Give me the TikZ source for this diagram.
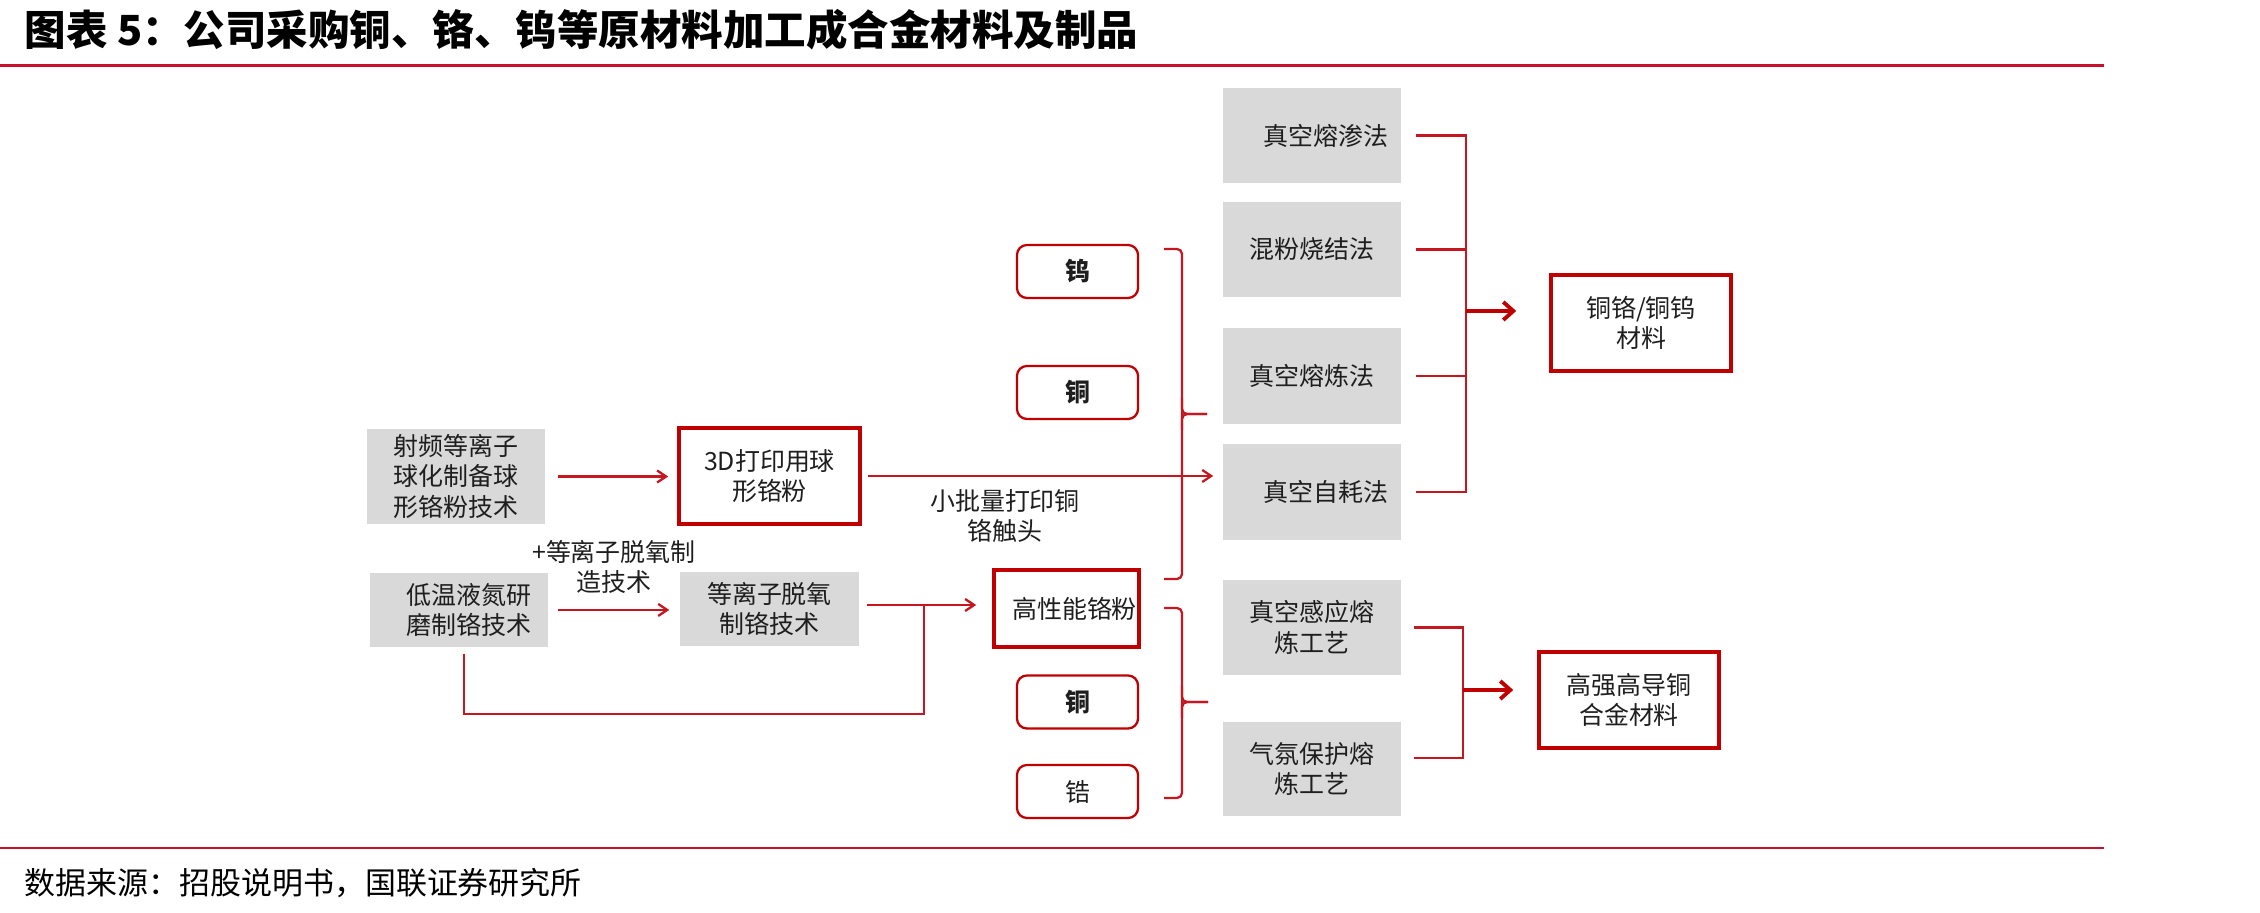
\documentclass[tikz,border=0pt]{standalone}
\usepackage{fontspec}
\setmainfont{Noto Sans CJK SC}
\usetikzlibrary{arrows.meta,calc}
\definecolor{hdr}{RGB}{200,16,46}
\definecolor{rd}{RGB}{192,0,0}
\definecolor{ln}{RGB}{198,22,32}
\definecolor{gbox}{RGB}{217,217,217}
\definecolor{txt}{RGB}{30,30,30}
\begin{document}
\begin{tikzpicture}[x=0.01cm,y=-0.01cm,
  every node/.style={inner sep=0pt, text=txt, align=center, font=\fontsize{7.1pt}{8.6pt}\selectfont},
  graybox/.style={fill=gbox, minimum width=1.78cm, minimum height=0.95cm},
  redbox/.style={draw=rd, line width=1pt, minimum width=1.80cm, minimum height=0.96cm},
  roundbox/.style={draw=rd, line width=0.65pt, rounded corners=0.1cm, minimum width=1.21cm, minimum height=0.53cm},
  boldtxt/.style={font=\fontsize{7.1pt}{8.6pt}\selectfont\bfseries},
  conn/.style={draw=ln, line width=0.65pt},
  arr/.style={conn, -{Straight Barb[length=0.09cm,width=0.12cm]}},
  bigarr/.style={draw=rd, line width=0.9pt, -{Straight Barb[length=0.1cm,width=0.18cm,line width=1.1pt]}},
  brace/.style={conn, rounded corners=0.05cm},
]
\useasboundingbox (0,0) rectangle (2260,913);

% title and rules
\node[anchor=west, text=black, font=\fontsize{11.8pt}{12pt}\selectfont\bfseries] (title) at (24,30)
  {图表 5：公司采购铜、铬、钨等原材料加工成合金材料及制品};
\draw[hdr, line width=0.85pt] (0,66) -- (2104,66);
\draw[hdr, line width=0.85pt] (0,848) -- (2104,848);
\node[anchor=west, text=black, font=\fontsize{8.8pt}{9pt}\selectfont] (src) at (24,883)
  {数据来源：招股说明书，国联证券研究所};

% left column
\node[graybox] (s1) at (456,476.5) {射频等离子\\球化制备球\\形铬粉技术};
\node[graybox, minimum height=0.74cm] (s2) at (459,610) {\hspace*{0.2cm}低温液氮研\\\hspace*{0.2cm}磨制铬技术};
\node[redbox, minimum width=1.81cm] (d3) at (769.5,476) {3D打印用球\\形铬粉};
\node[graybox, minimum width=1.79cm, minimum height=0.74cm] (pl) at (769.5,609) {等离子脱氧\\制铬技术};
\node (lab1) at (614,567) {+等离子脱氧制\\造技术};

% middle column
\node[roundbox, boldtxt] (w) at (1077.5,271.5) {钨};
\node[roundbox, boldtxt] (cu1) at (1077.5,392.5) {铜};
\node[redbox, minimum width=1.45cm, minimum height=0.77cm] (hp) at (1066.5,608.5) {\hspace*{0.16cm}高性能铬粉};
\node[roundbox, boldtxt] (cu2) at (1077.5,702) {铜};
\node[roundbox] (zr) at (1077.5,791.5) {锆};
\node (lab2) at (1005,516) {小批量打印铜\\铬触头};

% method boxes
\node[graybox] (m1) at (1312,135.5) {\hspace*{0.28cm}真空熔渗法};
\node[graybox] (m2) at (1312,249.5) {混粉烧结法};
\node[graybox] (m3) at (1312,376) {真空熔炼法};
\node[graybox] (m4) at (1312,492) {\hspace*{0.28cm}真空自耗法};
\node[graybox] (m5) at (1312,627.5) {真空感应熔\\炼工艺};
\node[graybox, minimum height=0.94cm] (m6) at (1312,769) {气氛保护熔\\炼工艺};

% results
\node[redbox] (r1) at (1641,323) {铜铬/铜钨\\材料};
\node[redbox] (r2) at (1629,700) {高强高导铜\\合金材料};

% left arrows
\draw[arr, shorten <=0.12cm, shorten >=0.09cm] (s1.east) -- (s1.east -| d3.west);
\draw[arr, shorten <=0.09cm, shorten >=0.10cm] (s2.east) -- (s2.east -| pl.west);
\draw[arr, shorten <=0.06cm, shorten >=0.09cm] (d3.east) -- (d3.east -| m4.west);

\coordinate (jp) at (924,605);
\coordinate (pe) at ([xshift=0.07cm]pl.east);
\draw[arr, shorten >=0.16cm] (pe |- jp) -- (jp -| hp.west);
\draw[conn] ([xshift=0.05cm,yshift=-0.06cm]s2.south) -- ++(0,60) -| (jp);

% braces
\coordinate (b1t) at (1164,249);
\coordinate (b1b) at (1164,579);
\coordinate (b1n) at (1207,414);
\draw[brace] (b1t) -- (1182,249) -- (1182,579) -- (b1b);
\draw[brace] (1182,398) -- (1182,414) -- (b1n);
\draw[brace] (1182,430) -- (1182,414) -- (b1n);

\coordinate (b2t) at (1164,608);
\coordinate (b2b) at (1164,798);
\coordinate (b2n) at (1208,702);
\draw[brace] (b2t) -- (1182,608) -- (1182,798) -- (b2b);
\draw[brace] (1182,686) -- (1182,702) -- (b2n);
\draw[brace] (1182,718) -- (1182,702) -- (b2n);

% right joins
\coordinate (jA) at (1466,311);
\foreach \m in {m1,m2,m3,m4} \draw[conn] ([xshift=0.14cm]\m.east) -| (jA);
\draw[bigarr, shorten >=0.33cm] (jA) -- (jA -| r1.west);

\coordinate (jB) at (1463,690);
\draw[conn] ([xshift=0.12cm]m5.east) -| (jB);
\draw[conn] ([xshift=0.12cm,yshift=0.11cm]m6.east) -| (jB);
\draw[bigarr, shorten >=0.24cm] (jB) -- (jB -| r2.west);
\end{tikzpicture}
\end{document}
